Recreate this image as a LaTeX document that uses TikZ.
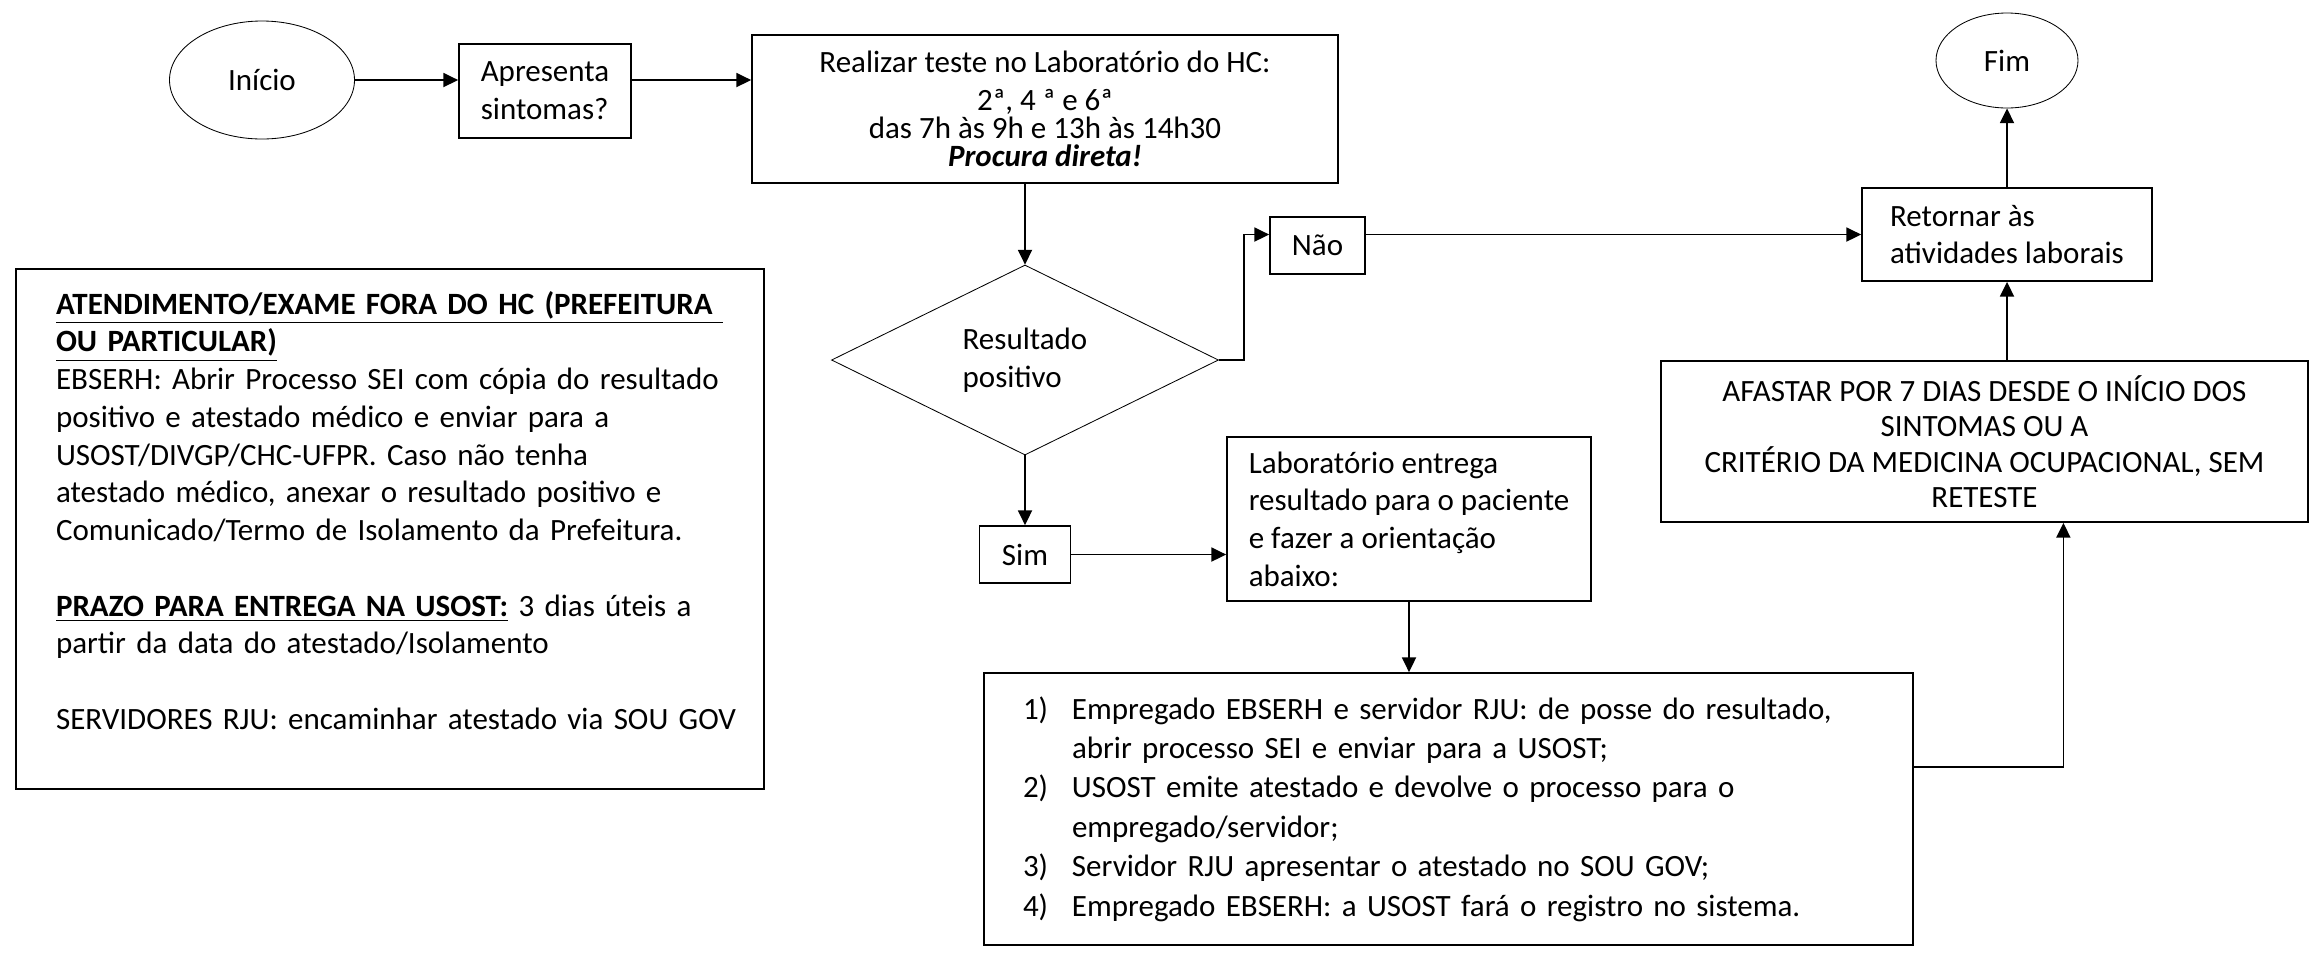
\documentclass[tikz,border=0pt]{standalone}
\usepackage{fontspec}
\setmainfont{Carlito}
\usetikzlibrary{shapes.geometric, arrows.meta}
\newlength{\pxu}
\setlength{\pxu}{0.355pt}

\begin{document}
\begin{tikzpicture}[x = 0.355pt, y = -0.355pt,
                    every node/.style = {font = \fontsize{11}{13.4}\selectfont},
                    box/.style = {draw, rectangle, line width = 0.65pt,
                                  inner sep = 0pt, align = left},
                    term/.style = {draw, ellipse, line width = 0.3pt, inner sep = 0pt},
                    arr/.style = {line width = 0.55pt,
                                  -{Triangle[length = 5.2pt, width = 5pt]}}]
      \useasboundingbox (0, 0) rectangle (2310, 953);

      \node [term, minimum width = 185\pxu, minimum height = 118\pxu] (ini) at (262, 80) {Início};
      \node [box, minimum width = 172\pxu, minimum height = 94\pxu] (apr) at (545, 91)
            {Apresenta\\sintomas?};
      \node [box, align = center, minimum width = 586\pxu, minimum height = 148\pxu] (real) at (1045, 109)
            {Realizar teste no Laboratório do HC:\\
             2ª, 4 ª e 6ª\hspace*{19pt}\\[-3.5pt]
             das 7h às 9h e 13h às 14h30\\[-3.5pt]
             \textbf{\textit{Procura direta!}}};
      \draw [arr] (ini.east) -- (ini.east -| apr.west);
      \draw [arr] (apr.east |- ini.east) -- (ini.east -| real.west);

      \node [draw, diamond, aspect = 2, line width = 0.3pt, inner sep = 0pt, align = left,
             minimum width = 387\pxu, minimum height = 190\pxu] (diam) at (1025, 360)
            {Resultado\\positivo};
      \draw [arr] (diam.north |- real.south) -- (diam.north);

      \node [box, minimum width = 95\pxu, minimum height = 57\pxu] (no) at (1317.5, 245.5) {Não};
      \node [box, minimum width = 290\pxu, minimum height = 93\pxu] (ret) at (2007, 234.5)
            {Retornar às\\atividades laborais};
      \node [term, minimum width = 142\pxu, minimum height = 95\pxu] (fim) at (2007, 60.5) {Fim};
      \draw [arr] (diam.east) -- ++(25, 0) |- (no.west |- ret.west);
      \draw [arr] (no.east |- ret.west) -- (ret.west);
      \draw [arr] (ret.north) -- (fim.south);

      \node [box, minimum width = 91\pxu, minimum height = 57\pxu] (sim) at (1025, 554.5) {Sim};
      \node [box, minimum width = 364\pxu, minimum height = 164\pxu] (lab) at (1409, 519)
            {Laboratório entrega\\resultado para o paciente\\e fazer a orientação\\abaixo:};
      \draw [arr] (diam.south) -- (sim.north);
      \draw [arr] (sim.east) -- (sim.east -| lab.west);

      \node [box, font = \fontsize{11}{14}\selectfont, text width = 302.1pt, inner xsep = 13.85pt,
             minimum height = 272\pxu] (orient) at (1448.5, 809)
            {\makebox[17.4pt][l]{1)}Empregado EBSERH e servidor RJU: de posse do resultado,\\
             \hspace*{17.4pt}abrir processo SEI e enviar para a USOST;\\
             \makebox[17.4pt][l]{2)}USOST emite atestado e devolve o processo para o\\
             \hspace*{17.4pt}empregado/servidor;\\
             \makebox[17.4pt][l]{3)}Servidor RJU apresentar o atestado no SOU GOV;\\
             \makebox[17.4pt][l]{4)}Empregado EBSERH: a USOST fará o registro no sistema.};
      \draw [arr] (lab.south) -- (lab.south |- orient.north);

      \node [box, align = center, font = \fontsize{11}{12.6}\selectfont,
             minimum width = 647\pxu, minimum height = 161\pxu] (afas) at (1984.5, 441.5)
            {AFASTAR POR 7 DIAS DESDE O INÍCIO DOS\\
             SINTOMAS OU A\\
             CRITÉRIO DA MEDICINA OCUPACIONAL, SEM\\
             RETESTE};
      \draw [arr] ([yshift = 15pt]orient.east) -| ([xshift = 28pt]afas.south);
      \draw [arr] (ret.south |- afas.north) -- (ret.south);

      \node [box, text width = 237.1pt, inner xsep = 14.2pt, minimum height = 520\pxu] (fora) at (390, 529)
            {\makebox[\linewidth][l]{\textbf{\underline{ATENDIMENTO/EXAME FORA DO HC (PREFEITURA\ }}}\\
             \textbf{\underline{OU PARTICULAR)}}\\
             \makebox[\linewidth][s]{EBSERH: Abrir Processo SEI com cópia do resultado}\\
             positivo e atestado médico e enviar para a\\
             \makebox[186pt][s]{USOST/DIVGP/CHC-UFPR. Caso não tenha}\\
             \makebox[\linewidth][s]{atestado médico, anexar o resultado positivo e}\\
             Comunicado/Termo de Isolamento da Prefeitura.\\[13.4pt]
             \makebox[\linewidth][s]{\textbf{\underline{PRAZO PARA ENTREGA NA USOST:}} 3 dias úteis a}\\
             partir da data do atestado/Isolamento\\[13.4pt]
             \mbox{SERVIDORES RJU: encaminhar atestado via SOU GOV}\\
             \mbox{}};
    \end{tikzpicture}
\end{document}
